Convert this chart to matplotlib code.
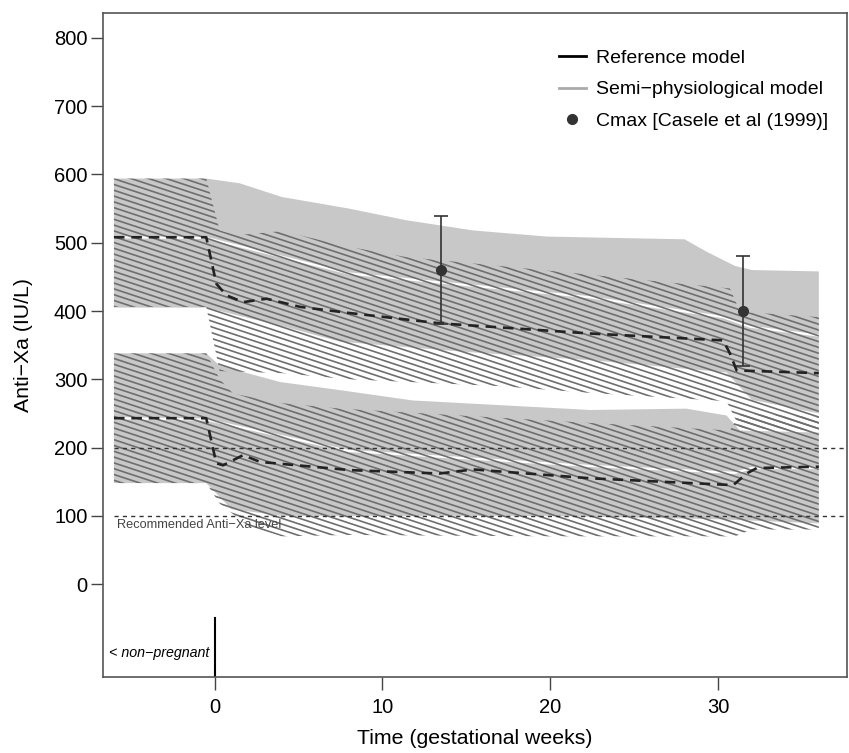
import numpy as np
import matplotlib
matplotlib.use('Agg')
import matplotlib.pyplot as plt
from matplotlib.patches import Polygon
from matplotlib.collections import LineCollection
from matplotlib.lines import Line2D

plt.rcParams['font.family'] = ['Liberation Sans', 'DejaVu Sans']

# ---- upper band: semi-physiological model (grey 90% band + median)
semi_up_top_x = [-6, -0.5, 1.5, 4, 8, 11.4, 15.4, 19.8, 28, 29.3, 31, 32, 36]
semi_up_top_y = [594, 594, 587, 567, 550, 533, 518, 509, 505, 487, 466, 460, 458]
semi_up_bot_x = [-6, -0.5, 0.3, 4, 7.5, 15, 22.4, 30.5, 32, 36]
semi_up_bot_y = [405, 405, 400, 378, 355, 340, 328, 310, 270, 250]
semi_up_med_x = [-6, -0.5, 8, 22.4, 30.3, 31.9, 36]
semi_up_med_y = [508, 507, 455, 420, 391, 377, 364]

# ---- upper band: reference model (hatched 90% band + median)
ref_up_top_x = [-6, -0.5, 0.3, 1.3, 4, 8, 11.4, 17.4, 22.4, 30.7, 31.3, 36]
ref_up_top_y = [594, 594, 518, 511, 517, 494, 479, 465, 453, 433, 399, 391]
ref_up_bot_x = [-6, -0.5, 0.3, 4, 8, 17, 22.4, 30.5, 31.3, 36]
ref_up_bot_y = [406, 406, 312, 309, 300, 290, 280, 268, 228, 225]
ref_up_med_x = [-6, -0.5, 0.1, 0.7, 1.7, 3.1, 5.1, 8.06, 13.4, 22.4, 30.3, 30.7, 31.1, 36]
ref_up_med_y = [508, 508, 440, 423, 413, 418, 406, 397, 382, 367, 357, 338, 313, 309]

# ---- lower band: semi-physiological model
semi_lo_top_x = [-6, -0.5, 0.3, 3.9, 7.5, 11.8, 22.4, 28.1, 30.5, 31.3, 36]
semi_lo_top_y = [338, 338, 320, 296, 284, 269, 255, 257, 247, 225, 222]
semi_lo_bot_x = [-6, -0.5, 1, 4, 20, 30, 36]
semi_lo_bot_y = [148, 148, 110, 100, 100, 95, 89]
semi_lo_med_x = [-6, -0.5, 8, 22.4, 31, 32, 36]
semi_lo_med_y = [243, 241, 195, 173, 163, 170, 170]

# ---- lower band: reference model
ref_lo_top_x = [-6, -0.5, 0.3, 1.1, 4, 7.5, 22.4, 30.7, 31.3, 36]
ref_lo_top_y = [338, 338, 300, 279, 265, 257, 236, 225, 250, 245]
ref_lo_bot_x = [-6, -0.5, 0.3, 2, 4, 8, 20, 31, 32, 36]
ref_lo_bot_y = [148, 148, 118, 85, 70, 72, 70, 70, 80, 80]
ref_lo_med_x = [-6, -0.5, 0.1, 0.5, 1.7, 2.7, 8.06, 13.4, 15.4, 22.4, 30.9, 31.7, 32.3, 36]
ref_lo_med_y = [243, 243, 177, 174, 189, 179, 167, 162, 168, 155, 145, 162, 170, 172]

# observed Cmax, Casele et al (1999)
cmax_x = [13.5, 31.5]
cmax_y = [460, 400]
cmax_err = [79, 80]

target_levels = [100, 200]
yticks = list(range(0, 801, 100))
xticks = [0, 10, 20, 30]

GREY = '#c8c8c8'
HATCH = '#6e6e6e'
DARK = '#222222'

W_PX, H_PX = 849, 753
fig = plt.figure(figsize=(W_PX / 100, H_PX / 100), dpi=100)
ax_l, ax_r, ax_t, ax_b = 102.7, 846.7, 13.3, 677.0
ax = fig.add_axes([ax_l / W_PX, 1 - ax_b / H_PX, (ax_r - ax_l) / W_PX, (ax_b - ax_t) / H_PX])
ax_w, ax_h = ax_r - ax_l, ax_b - ax_t


def band_patch(xt, yt, xb, yb, **kw):
    vx = np.r_[xt, np.asarray(xb)[::-1]]
    vy = np.r_[yt, np.asarray(yb)[::-1]]
    p = Polygon(np.column_stack([vx, vy]), closed=True, **kw)
    ax.add_patch(p)
    return p


def hatch(patch, slope=0.33, step=5.8):
    # shading lines drawn in axes coords, clipped to the band polygon
    s = slope * ax_w / ax_h
    dy = step / ax_h
    starts = np.arange(-0.1, 1.1 + s, dy)
    segs = [[(0, y0), (1, y0 - s)] for y0 in starts]
    lc = LineCollection(segs, colors=HATCH, linewidths=1.2, transform=ax.transAxes)
    lc.set_clip_path(patch)
    ax.add_collection(lc, autolim=False)


# grey bands
band_patch(semi_up_top_x, semi_up_top_y, semi_up_bot_x, semi_up_bot_y, facecolor=GREY, edgecolor='none')
band_patch(semi_lo_top_x, semi_lo_top_y, semi_lo_bot_x, semi_lo_bot_y, facecolor=GREY, edgecolor='none')
ax.plot(semi_up_med_x, semi_up_med_y, color='white', lw=1.6)
ax.plot(semi_lo_med_x, semi_lo_med_y, color='white', lw=1.6)

# hatched bands
p = band_patch(ref_up_top_x, ref_up_top_y, ref_up_bot_x, ref_up_bot_y, facecolor='none', edgecolor='none')
hatch(p)
p = band_patch(ref_lo_top_x, ref_lo_top_y, ref_lo_bot_x, ref_lo_bot_y, facecolor='none', edgecolor='none')
hatch(p)

# medians of the reference model
for mx, my in [(ref_up_med_x, ref_up_med_y), (ref_lo_med_x, ref_lo_med_y)]:
    ax.plot(mx, my, color=DARK, lw=1.9, dashes=(4, 2.6))

# recommended range
for lvl in target_levels:
    ax.plot([-6, 40], [lvl, lvl], color='#333333', lw=1.0, dashes=(3, 3))
ax.text(-5.8, 86, 'Recommended Anti\u2212Xa level', fontsize=9.2, color='#444444', va='center', ha='left')

# observations
ax.errorbar(cmax_x, cmax_y, yerr=cmax_err, fmt='o', color='#333333', ms=7,
            elinewidth=1.2, capsize=5, capthick=1.2)

# start of pregnancy
ax.plot([0, 0], [-140, -50], color='black', lw=1.5)
ax.text(-0.3, -101, '< non\u2212pregnant', fontsize=10.3, style='italic', ha='right', va='center')

ax.set_xlim(-6.67, 37.66)
ax.set_ylim(-136, 836)
ax.set_xticks(xticks)
ax.set_yticks(yticks)
ax.tick_params(axis='both', direction='out', length=9, width=1.0, color='#444444', labelsize=14.5)
ax.tick_params(axis='y', pad=2)
ax.tick_params(axis='x', pad=6)
for sp in ax.spines.values():
    sp.set_color('#555555')
    sp.set_linewidth(1.2)
ax.set_xlabel('Time (gestational weeks)', fontsize=15.3, labelpad=9)
ax.set_ylabel('Anti\u2212Xa (IU/L)', fontsize=15.3, labelpad=15)

handles = [Line2D([], [], color='black', lw=2),
           Line2D([], [], color='#aaaaaa', lw=2),
           Line2D([], [], color='#333333', marker='o', ms=7, ls='none')]
labels = ['Reference model', 'Semi\u2212physiological model', 'Cmax [Casele et al (1999)]']
ax.legend(handles, labels, loc='upper left', bbox_to_anchor=(0.613, 0.946), frameon=False,
          fontsize=14, handlelength=1.4, handletextpad=0.5, labelspacing=0.72,
          borderpad=0, borderaxespad=0)

fig.savefig('out.png', dpi=100)
